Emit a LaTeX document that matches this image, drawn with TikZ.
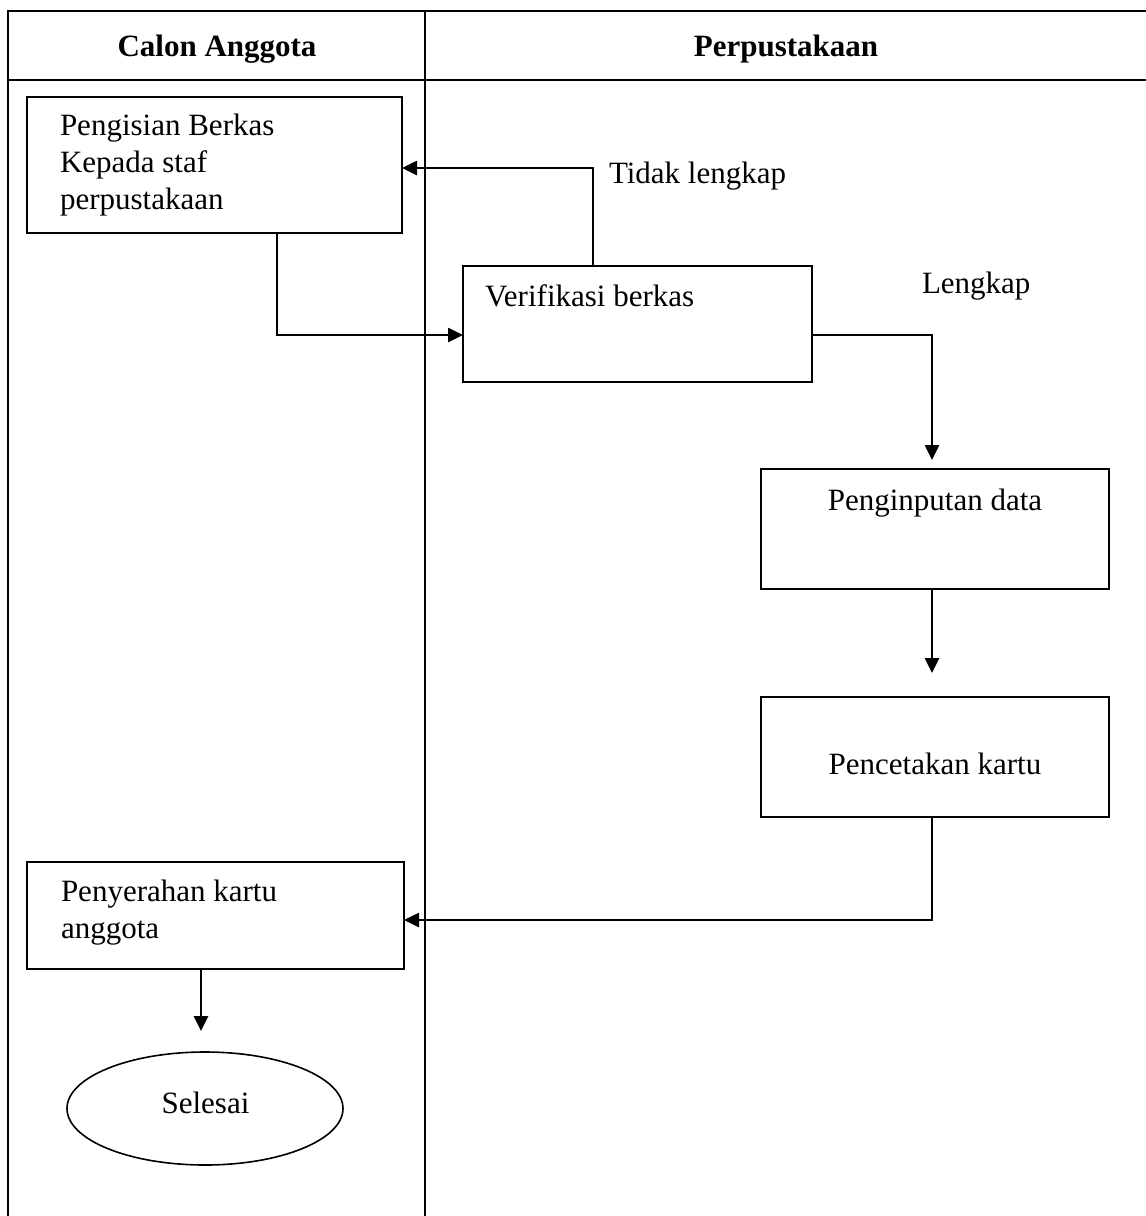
\documentclass[tikz,border=0pt]{standalone}
\usepackage{fontspec}
\setmainfont{Liberation Serif}
\usetikzlibrary{arrows.meta,shapes.geometric}
\begin{document}
\begin{tikzpicture}[x=1pt,y=-1pt,
  every node/.style={font=\fontsize{31}{37}\selectfont, inner sep=0pt, outer sep=0pt},
  frame/.style={line width=2.7pt},
  procbox/.style={draw, line width=2.6pt, rectangle},
  endshape/.style={draw, line width=1.6pt, ellipse},
  txt/.style={anchor=base west, align=left},
  ctxt/.style={anchor=base},
  arr/.style={line width=2.6pt, -{Triangle[length=15pt,width=14pt]}},
  ln/.style={line width=2.6pt}]
\useasboundingbox (0,0) rectangle (1146,1216);
% swimlane frame
\coordinate (tl) at (8,11);
\coordinate (tr) at (1146,11);
\coordinate (hl) at (8,80);
\coordinate (hr) at (1146,80);
\coordinate (bl) at (8,1216);
\coordinate (dt) at (425,11);
\coordinate (db) at (425,1216);
\draw[frame] (tr) -- (tl) -- (bl);
\draw[frame] (hl) -- (hr);
\draw[frame] (dt) -- (db);
\node[ctxt, font=\fontsize{31}{37}\selectfont\bfseries] (h1) at (217,56) {Calon Anggota};
\node[ctxt, font=\fontsize{31}{37}\selectfont\bfseries] (h2) at (786,56) {Perpustakaan};
% boxes
\node[procbox, minimum width=375pt, minimum height=136pt] (b1) at (214.5,165) {};
\node[procbox, minimum width=349pt, minimum height=116pt] (b2) at (637.5,324) {};
\node[procbox, minimum width=348pt, minimum height=120pt] (b3) at (935,529) {};
\node[procbox, minimum width=348pt, minimum height=120pt] (b4) at (935,757) {};
\node[procbox, minimum width=377pt, minimum height=107pt] (b5) at (215.5,915.5) {};
\node[endshape, minimum width=276pt, minimum height=113pt] (e1) at (205,1108.5) {};
% texts
\node[txt] (t1) at (60,209) {Pengisian Berkas\\Kepada staf\\perpustakaan};
\node[txt] (t2) at (485,306) {Verifikasi berkas};
\node[ctxt] (t3) at (935,510) {Penginputan data};
\node[ctxt] (t4) at (935,774) {Pencetakan kartu};
\node[txt] (t5) at (61,938) {Penyerahan kartu\\anggota};
\node[ctxt] (t6) at (205.5,1113) {Selesai};
\node[txt] (l1) at (609,183) {Tidak lengkap};
\node[txt] (l2) at (922,293) {Lengkap};
% connectors
\coordinate (s1) at (93,233);
\coordinate (k1) at (277,335);
\draw[arr] (s1) -- (k1 |- b1.south) -- (k1) -- (k1 -| b2.west);
\coordinate (s2) at (785,266);
\coordinate (k2) at (593,168);
\draw[arr] (s2) -- (k2 |- b2.north) -- (k2) -- (k2 -| b1.east);
\coordinate (k3) at (932,335);
\draw[arr, shorten >=9pt] (k3 -| b2.east) -- (k3) -- (k3 |- b3.north);
\coordinate (k4) at (932,600);
\draw[arr, shorten >=24pt] (k4 |- b3.south) -- (k4 |- b4.north);
\coordinate (k5) at (932,920);
\draw[arr] (k5 |- b4.south) -- (k5) -- (k5 -| b5.east);
\coordinate (k6) at (201,1000);
\draw[arr, shorten >=21pt] (k6 |- b5.south) -- (k6 |- e1.north);
\end{tikzpicture}
\end{document}
